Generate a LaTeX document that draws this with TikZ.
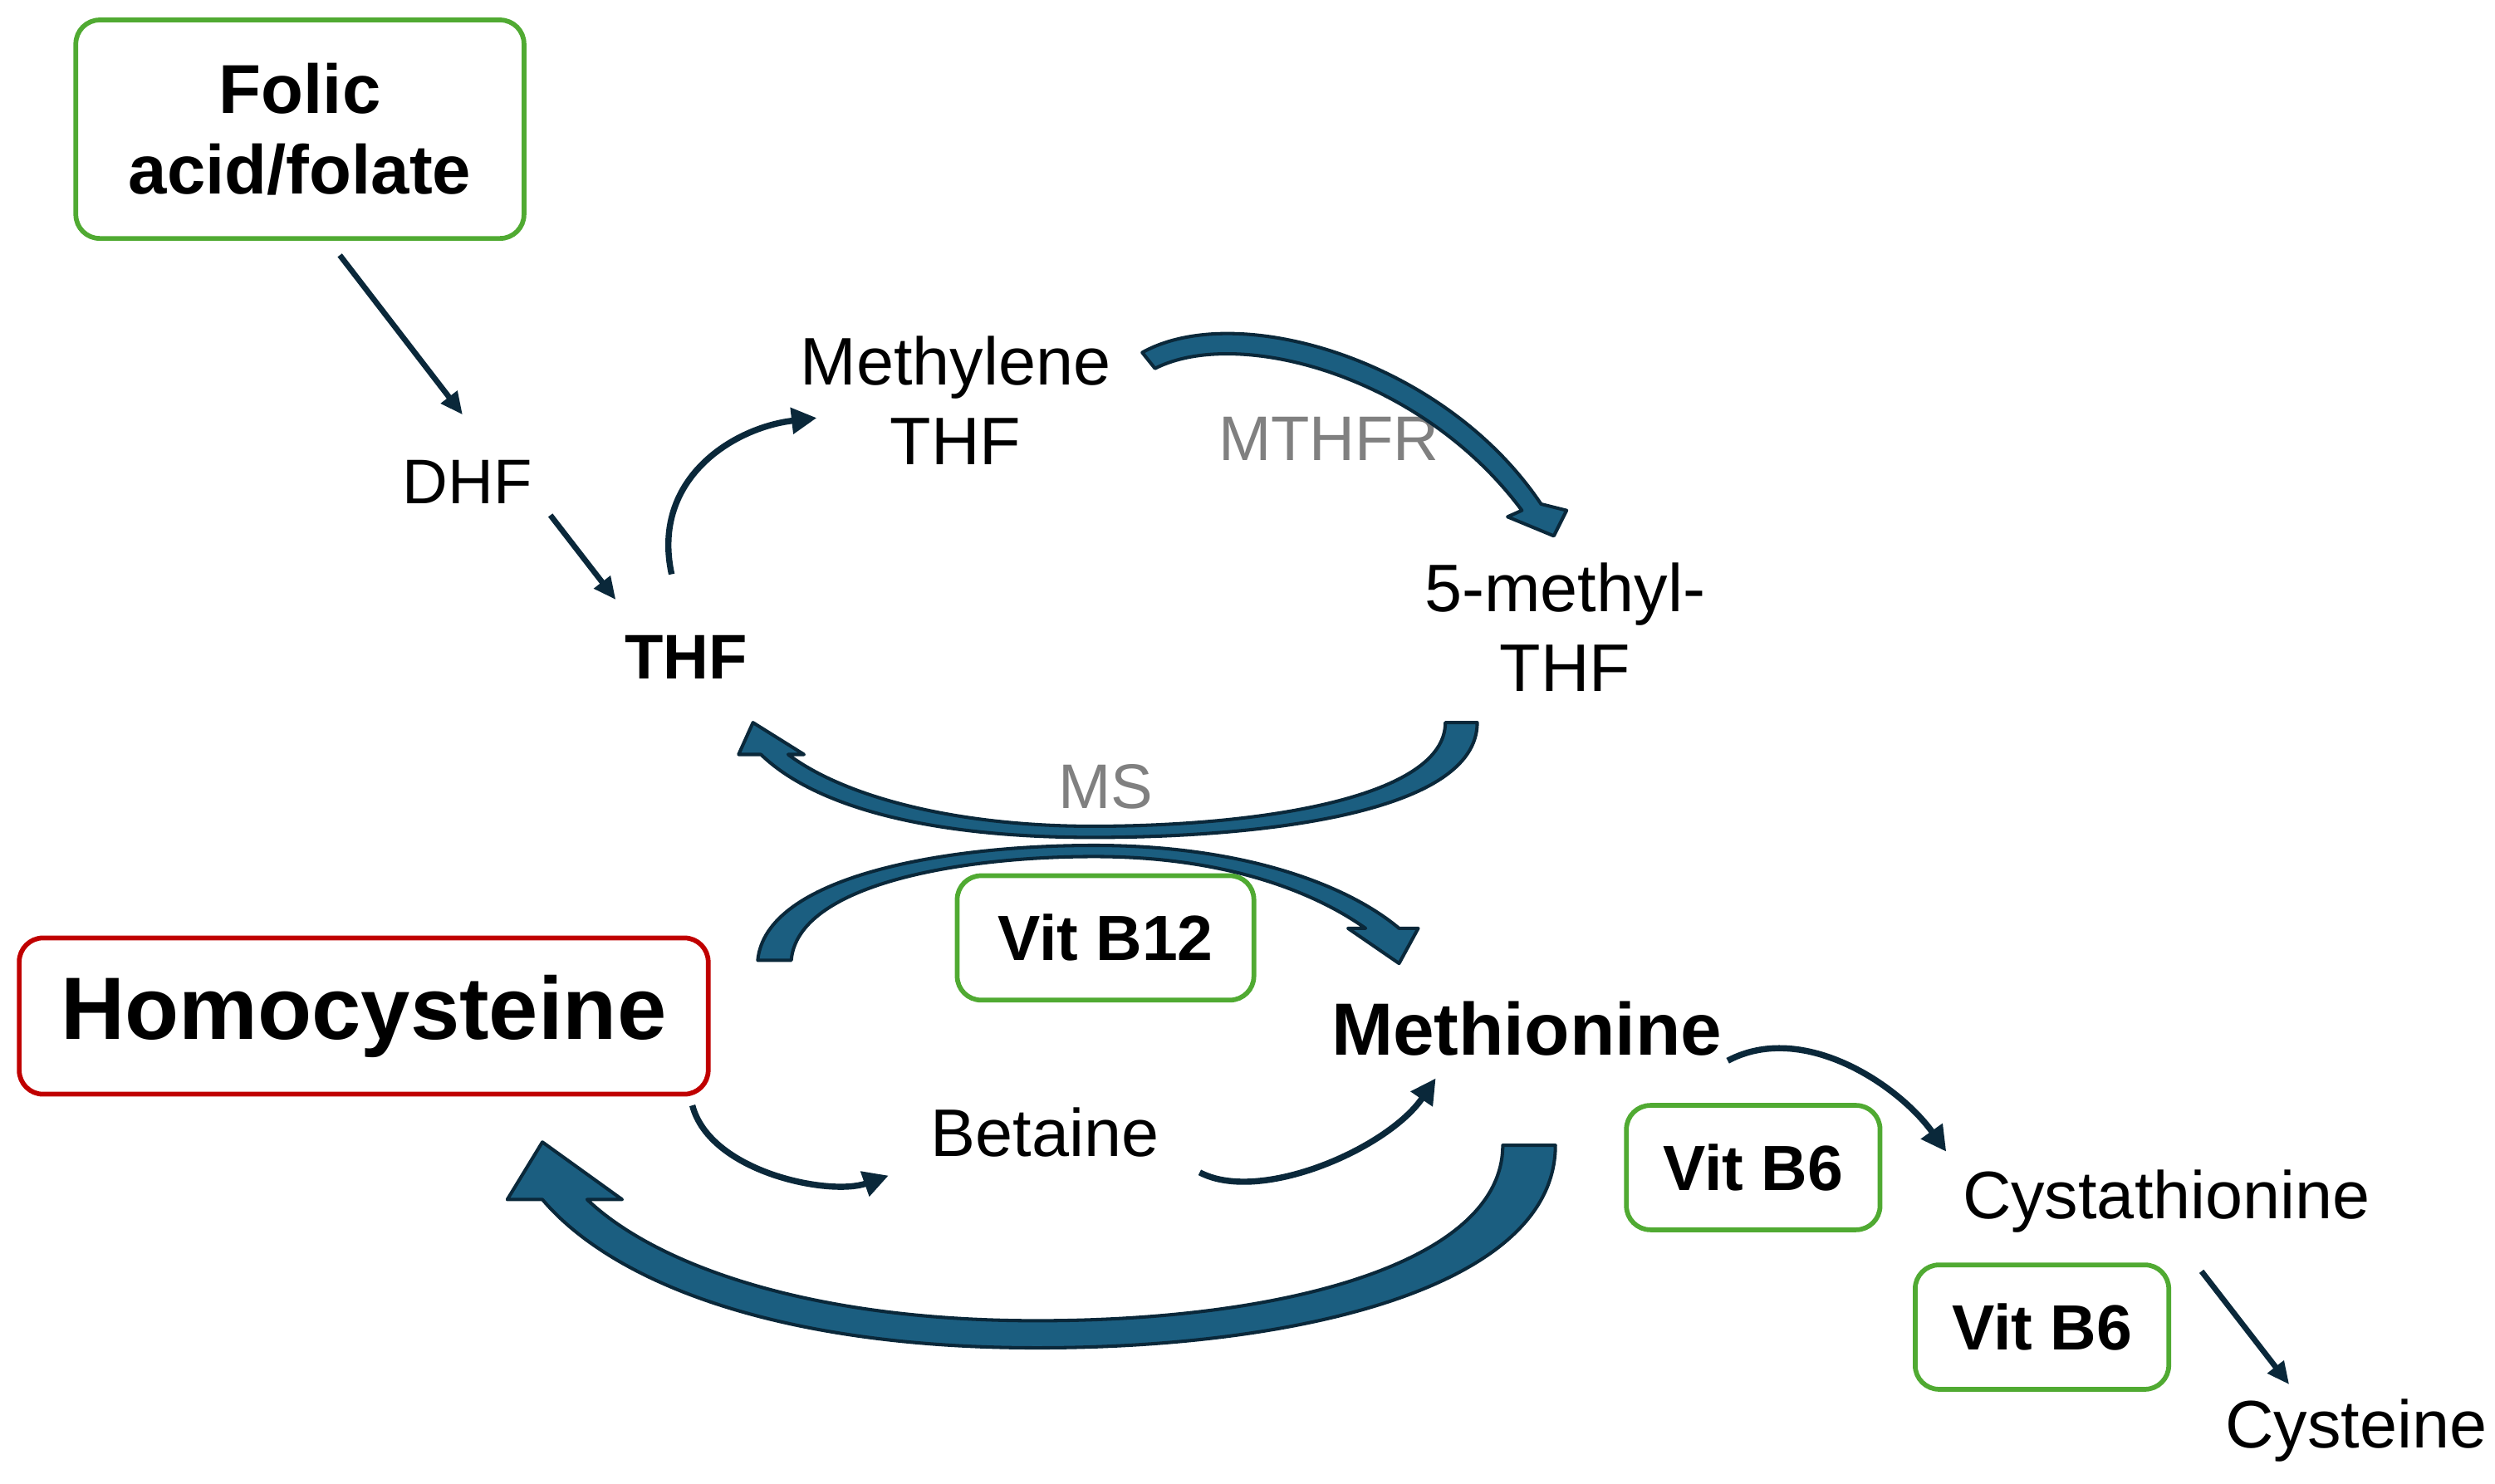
\documentclass[tikz,border=0pt]{standalone}
\usepackage{fontspec}
\setmainfont{Liberation Sans}
\usetikzlibrary{arrows.meta}
\definecolor{afill}{RGB}{27,94,128}
\definecolor{aline}{RGB}{10,40,58}
\definecolor{gbox}{RGB}{80,170,50}
\definecolor{rbox}{RGB}{192,0,0}
\definecolor{enz}{RGB}{128,128,128}
\begin{document}
\begin{tikzpicture}[x=0.02cm,y=-0.02cm,
  txt/.style={inner sep=0pt,align=center,font=\fontsize{24}{28.5}\selectfont},
  sm/.style={inner sep=0pt,align=center,font=\fontsize{22.5}{26}\selectfont},
  box/.style={draw=#1,line width=1.7pt,rounded corners=0.3cm,inner sep=0pt,align=center},
  big/.style={fill=afill,draw=aline,line width=1.2pt,line join=round},
  thin/.style={draw=aline,line width=2.2pt,-{Triangle[length=9pt,width=9pt]}},
  straight/.style={draw=aline,line width=2pt,-{Triangle[length=8pt,width=7pt]}}]
\useasboundingbox (0,0) rectangle (1564,930);
% nodes
\node[box=gbox,minimum width=5.62cm,minimum height=2.74cm,font=\bfseries\fontsize{24.7}{28.5}\selectfont] (folic) at (188,81) {Folic\\acid/folate};
\node[sm] (dhf) at (293,302) {DHF};
\node[sm,font=\bfseries\fontsize{22.5}{26}\selectfont] (thf) at (430,412) {THF};
\node[txt] (mthf) at (599,251) {Methylene\\THF};
\node[sm,text=enz] (mthfr) at (833,275) {MTHFR};
\node[txt] (fmthf) at (981,393) {5-methyl-\\THF};
\node[sm,text=enz] (ms) at (693,493) {MS};
\node[box=gbox,minimum width=3.72cm,minimum height=1.56cm,font=\bfseries\fontsize{22.8}{26}\selectfont] (b12) at (693,588) {Vit B12};
\node[box=rbox,minimum width=8.64cm,minimum height=1.96cm,font=\bfseries\fontsize{31.6}{36}\selectfont] (hcy) at (228,637) {Homocysteine};
\node[txt,font=\bfseries\fontsize{26.4}{30}\selectfont] (met) at (957,645) {Methionine};
\node[txt] (bet) at (655,710) {Betaine};
\node[box=gbox,minimum width=3.18cm,minimum height=1.56cm,font=\bfseries\fontsize{22.8}{26}\selectfont] (b6a) at (1099,732) {Vit B6};
\node[txt] (cys) at (1358,753) {Cystathionine};
\node[box=gbox,minimum width=3.18cm,minimum height=1.56cm,font=\bfseries\fontsize{22.8}{26}\selectfont] (b6b) at (1280,832) {Vit B6};
\node[txt] (cyst) at (1477,897) {Cysteine};
% connector endpoints
\coordinate (f1) at (213,160); \coordinate (f2) at (290,260);
\coordinate (d1) at (345,323); \coordinate (d2) at (386,376);
\coordinate (t1) at (421,360); \coordinate (t2) at (512,262);
\coordinate (h1) at (434,693); \coordinate (h2) at (557,737);
\coordinate (e1) at (752,735); \coordinate (e2) at (900,676);
\coordinate (m1) at (1083,665); \coordinate (m2) at (1220,722);
\coordinate (v1) at (1380,797); \coordinate (v2) at (1435,868);
% straight and thin arrows
\draw[straight] (f1) -- (f2);
\draw[straight] (d1) -- (d2);
\draw[straight] (v1) -- (v2);
\draw[thin] (t1) .. controls (408,300) and (460,268) .. (t2);
\draw[thin] (h1) .. controls (445,735) and (520,750) .. (h2);
\draw[thin] (e1) .. controls (790,755) and (870,720) .. (e2);
\draw[thin] (m1) .. controls (1130,640) and (1190,680) .. (m2);
% Methylene THF -> 5-methyl-THF (MTHFR)
\path[big] (716,221) .. controls (775,188) and (905,225) .. (966,316)
  -- (982,320) -- (974,336) -- (945,324) -- (954,320)
  .. controls (890,234) and (775,205) .. (724,231) -- cycle;
% 5-methyl-THF -> THF (MS)
\path[big] (926,453) .. controls (926,510) and (790,525) .. (685,525)
  .. controls (580,525) and (510,505) .. (477,473)
  -- (463,473) -- (472,453) -- (504,473) -- (494,473)
  .. controls (530,500) and (600,518) .. (685,518)
  .. controls (790,518) and (906,500) .. (906,453) -- cycle;
% Homocysteine -> Methionine
\path[big] (475,602) .. controls (480,550) and (590,530) .. (686,530)
  .. controls (780,530) and (845,555) .. (877,582)
  -- (889,582) -- (877,604) -- (845,582) -- (856,582)
  .. controls (825,560) and (770,537) .. (686,537)
  .. controls (600,537) and (500,555) .. (496,602) -- cycle;
% Methionine -> Homocysteine (large)
\path[big] (975,718) .. controls (975,805) and (820,845) .. (650,845)
  .. controls (490,845) and (385,805) .. (340,752)
  -- (318,752) -- (340,716) -- (390,752) -- (368,752)
  .. controls (410,792) and (505,828) .. (650,828)
  .. controls (810,828) and (942,790) .. (942,718) -- cycle;
\end{tikzpicture}
\end{document}
